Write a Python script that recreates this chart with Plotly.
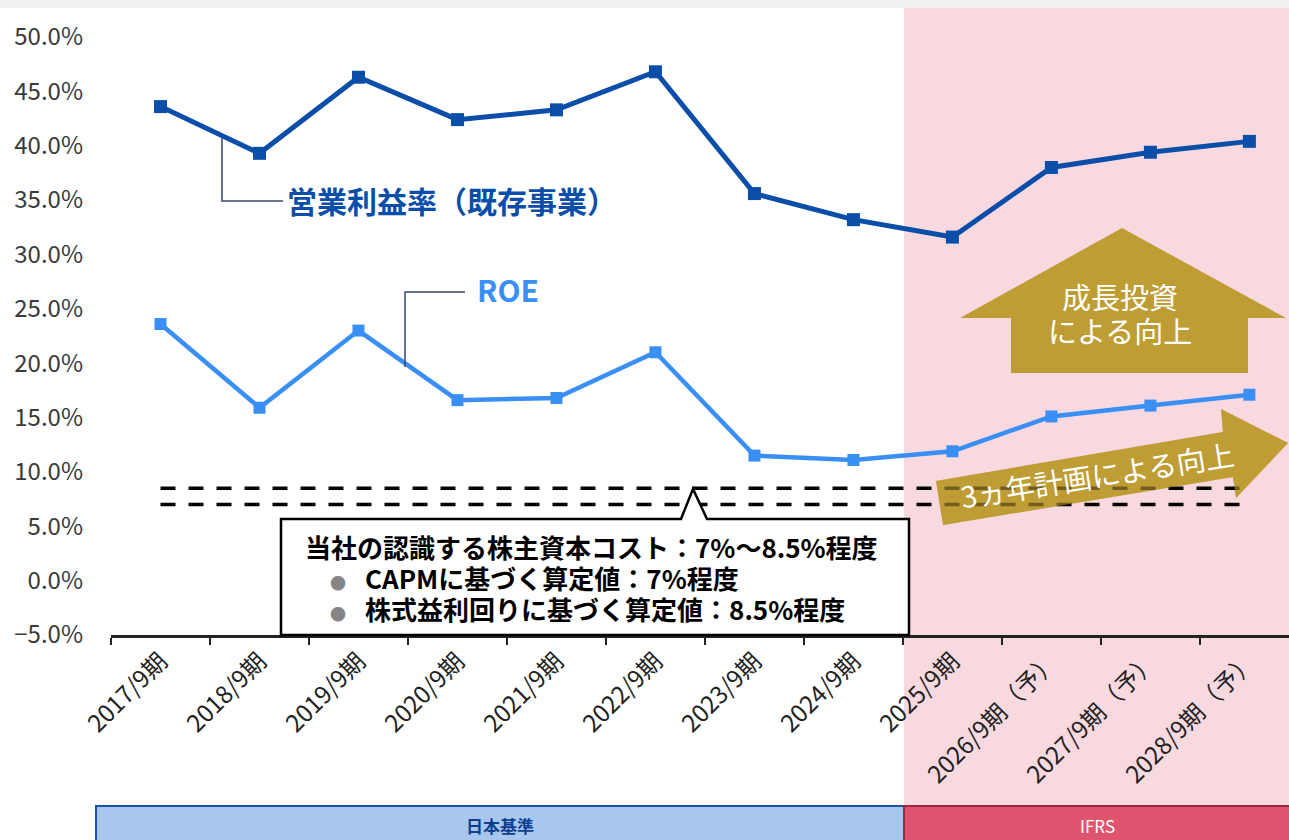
import plotly.graph_objects as go

# data
periods = ["2017/9期", "2018/9期", "2019/9期", "2020/9期", "2021/9期", "2022/9期",
           "2023/9期", "2024/9期", "2025/9期", "2026/9期（予）", "2027/9期（予）", "2028/9期（予）"]
op_margin = [43.6, 39.3, 46.3, 42.4, 43.3, 46.8, 35.6, 33.2, 31.6, 38.0, 39.4, 40.4]
roe = [23.6, 15.9, 23.0, 16.6, 16.8, 21.0, 11.5, 11.1, 11.9, 15.1, 16.1, 17.1]
cost_capm = 7.0
cost_ey = 8.5

FONT = "Noto Sans CJK JP"
DARK = "#0B4EA9"
LIGHT = "#3A8FF5"
GOLD = "#BF9D35"

# canvas / plot area in pixels, used to place the decorations
W, H = 1289, 840
L, R, T, B = 111, 0, 37, 205
PW, PH = W - L - R, H - T - B


def px(x):
    return (x - L) / PW


def py(y):
    return (H - B - y) / PH


def path(points):
    return "M " + " L ".join(f"{px(x):.5f},{py(y):.5f}" for x, y in points) + " Z"


def open_path(points):
    return "M " + " L ".join(f"{px(x):.5f},{py(y):.5f}" for x, y in points)


fig = go.Figure()

fig.add_trace(go.Scatter(
    x=periods, y=op_margin, mode="lines+markers", name="営業利益率（既存事業）",
    line=dict(color=DARK, width=5),
    marker=dict(symbol="square", size=13, color=DARK), showlegend=False))

fig.add_trace(go.Scatter(
    x=periods, y=roe, mode="lines+markers", name="ROE",
    line=dict(color=LIGHT, width=4.5),
    marker=dict(symbol="square", size=12, color=LIGHT), showlegend=False))

# cost of equity band (dashed)
for v in [cost_ey, cost_capm]:
    fig.add_trace(go.Scatter(
        x=[periods[0], periods[-1]], y=[v, v], mode="lines",
        line=dict(color="black", width=3.5, dash="15px,13px"),
        hoverinfo="skip", showlegend=False))

diag_arrow = path([(936, 481), (1223, 432), (1221, 409), (1288, 443), (1236, 498), (1233, 477), (943, 525)])

shapes = [
    # top grey strip
    dict(type="rect", xref="paper", yref="paper", x0=px(-2), x1=px(W + 2), y0=py(8), y1=py(-2),
         fillcolor="#F1F1F1", line_width=0, layer="below"),
    # IFRS background
    dict(type="rect", xref="paper", yref="paper", x0=px(904), x1=px(W + 2), y0=py(805), y1=py(8),
         fillcolor="#F8D9DF", line_width=0, layer="below"),
    # diagonal arrow, solid under the dashes, then translucent over them
    dict(type="path", xref="paper", yref="paper", path=diag_arrow,
         fillcolor=GOLD, line_width=0, layer="below"),
    dict(type="path", xref="paper", yref="paper", path=diag_arrow,
         fillcolor=GOLD, line_width=0, opacity=0.6, layer="above"),
    # bottom labels boxes
    dict(type="rect", xref="paper", yref="paper", x0=px(96), x1=px(904), y0=py(845), y1=py(806),
         fillcolor="#A9C6EC", line=dict(color="#1A52AE", width=2), layer="above"),
    dict(type="rect", xref="paper", yref="paper", x0=px(904), x1=px(W + 3), y0=py(845), y1=py(806),
         fillcolor="#DF5570", line=dict(color="#9A2A3F", width=2), layer="above"),
    # leader lines
    dict(type="path", xref="paper", yref="paper",
         path=open_path([(222, 138), (222, 201), (283, 201)]),
         line=dict(color="#34496E", width=1.5), layer="above"),
    dict(type="path", xref="paper", yref="paper",
         path=open_path([(405, 367), (405, 292), (465, 292)]),
         line=dict(color="#34496E", width=1.5), layer="above"),
    # callout box
    dict(type="path", xref="paper", yref="paper",
         path=path([(281, 519), (681, 519), (693, 489), (707, 519), (909, 519), (909, 635), (281, 635)]),
         fillcolor="white", line=dict(color="black", width=2.5), layer="above"),
    # up arrow
    dict(type="path", xref="paper", yref="paper",
         path=path([(1122, 228), (1286, 318), (1248, 318), (1248, 373), (1011, 373), (1011, 318), (960, 318)]),
         fillcolor=GOLD, line_width=0, layer="above"),
]

# callout text: line spacing follows the 24px base size, glyphs drawn at 26px
big = "<span style='font-size:26px'>{}</span>"
bullet = ("<span style='font-size:25px'>　</span>"
          "<span style='font-size:16px;color:#858585;font-weight:400'>●</span>"
          "<span style='font-size:19px'>　</span>")
box_text = "<br>".join([
    big.format("当社の認識する株主資本コスト：7%～8.5%程度"),
    bullet + big.format("CAPMに基づく算定値：7%程度"),
    bullet + big.format("株式益利回りに基づく算定値：8.5%程度"),
])

annotations = [
    dict(x=px(285), y=py(200), text="営業利益率（既存事業）", xanchor="left", yanchor="middle",
         font=dict(family=FONT, size=30, color=DARK, weight=700)),
    dict(x=px(475), y=py(289), text="ROE", xanchor="left", yanchor="middle",
         font=dict(family=FONT, size=30, color=LIGHT, weight=700)),
    dict(x=px(303), y=py(577), text=box_text, xanchor="left", yanchor="middle", align="left",
         font=dict(family=FONT, size=24, color="black", weight=700)),
    dict(x=px(1120), y=py(313), text="<span style='font-size:29px'>成長投資</span><br>"
                                     "<span style='font-size:29px'>による向上</span>",
         xanchor="center", yanchor="middle",
         font=dict(family=FONT, size=26, color="white")),
    dict(x=px(1097), y=py(474), text="3ヵ年計画による向上", textangle=-9, xanchor="center", yanchor="middle",
         font=dict(family=FONT, size=29, color="white")),
    dict(x=px(500), y=py(825), text="日本基準", xanchor="center", yanchor="middle",
         font=dict(family=FONT, size=17, color="#0D3F8F", weight=700)),
    dict(x=px(1097), y=py(825), text="IFRS", xanchor="center", yanchor="middle",
         font=dict(family=FONT, size=17, color="white")),
]
for a in annotations:
    a.update(xref="paper", yref="paper", showarrow=False)

fig.update_layout(
    width=W, height=H,
    margin=dict(l=L, r=R, t=T, b=B, pad=0),
    paper_bgcolor="white", plot_bgcolor="rgba(0,0,0,0)",
    font=dict(family=FONT),
    shapes=shapes, annotations=annotations,
    showlegend=False,
)
fig.update_xaxes(
    type="category", categoryorder="array", categoryarray=periods,
    range=[-0.5, 11.4], tickangle=-45,
    tickfont=dict(family=FONT, size=24, color="#222222"),
    ticks="outside", tickson="boundaries", ticklen=7, tickwidth=2, tickcolor="#222222",
    showline=True, linecolor="#222222", linewidth=2.5, showgrid=False, zeroline=False,
)
fig.update_yaxes(
    range=[-5, 50], dtick=5, tick0=0, tickformat=".1f", ticksuffix="%",
    tickfont=dict(family=FONT, size=24, color="#3A3A3A"),
    ticklabelstandoff=27, showgrid=False, zeroline=False, showline=False, ticks="",
)

# the page is exactly the figure: no body margin, no scrollbars
fig.write_html("out.html", config={"displayModeBar": False},
               post_script="document.body.style.margin='0';document.body.style.overflow='hidden';")
